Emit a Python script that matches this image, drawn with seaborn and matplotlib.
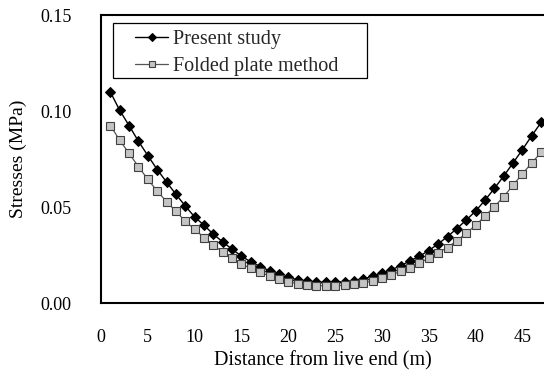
import numpy as np
import pandas as pd
import matplotlib
matplotlib.use("Agg")
import matplotlib.pyplot as plt
from matplotlib.patches import Rectangle
import seaborn as sns

distance = list(range(1, 48))
present_study = [0.1099, 0.1003, 0.0924, 0.0842, 0.0768, 0.0695, 0.0630, 0.0566, 0.0505, 0.0448,
                 0.0405, 0.0358, 0.0318, 0.0280, 0.0244, 0.0214, 0.0190, 0.0168, 0.0149, 0.0133,
                 0.0121, 0.0114, 0.0109, 0.0107, 0.0109, 0.0111, 0.0116, 0.0125, 0.0139, 0.0154,
                 0.0173, 0.0194, 0.0220, 0.0244, 0.0273, 0.0308, 0.0346, 0.0388, 0.0432, 0.0479,
                 0.0535, 0.0597, 0.0661, 0.0730, 0.0799, 0.0872, 0.0941]
folded_plate = [0.0924, 0.0848, 0.0779, 0.0710, 0.0644, 0.0583, 0.0528, 0.0477, 0.0426, 0.0384,
                0.0341, 0.0301, 0.0266, 0.0232, 0.0204, 0.0180, 0.0159, 0.0142, 0.0125, 0.0111,
                0.0100, 0.0095, 0.0090, 0.0090, 0.0090, 0.0092, 0.0097, 0.0104, 0.0114, 0.0128,
                0.0145, 0.0166, 0.0183, 0.0208, 0.0234, 0.0263, 0.0289, 0.0325, 0.0363, 0.0405,
                0.0453, 0.0502, 0.0554, 0.0614, 0.0673, 0.0730, 0.0785]
x_ticks = [0, 5, 10, 15, 20, 25, 30, 35, 40, 45]
y_ticks = [0.00, 0.05, 0.10, 0.15]
y_tick_labels = ["0.00", "0.05", "0.10", "0.15"]
series_names = ["Present study", "Folded plate method"]

sns.set_theme(style="white")
plt.rcParams['font.family'] = ['Liberation Serif', 'DejaVu Serif']

fig = plt.figure(figsize=(5.44, 3.72), dpi=100)
ax = fig.add_axes([101/544, 1 - 303/372, 1 - 101/544, (303 - 15)/372])

df1 = pd.DataFrame({"x": distance, "y": present_study})
df2 = pd.DataFrame({"x": distance, "y": folded_plate})

sns.lineplot(data=df1, x="x", y="y", ax=ax, color="black", linewidth=1.0,
             marker="D", markersize=4.6, markerfacecolor="black", markeredgecolor="black",
             label=series_names[0])
sns.lineplot(data=df2, x="x", y="y", ax=ax, color="#555555", linewidth=0.9,
             marker="s", markersize=5.5, markerfacecolor="#c4c4c4", markeredgecolor="#404040",
             markeredgewidth=0.8, label=series_names[1])

ax.set_xlim(0, 47.3)
ax.set_ylim(0, 0.15)
ax.set_xticks(x_ticks)
ax.set_yticks(y_ticks)
ax.set_yticklabels(y_tick_labels)
ax.tick_params(axis="both", length=0, labelsize=13, colors="black")
ax.tick_params(axis="x", pad=18.5)
ax.tick_params(axis="y", pad=21)
ax.set_xlabel("Distance from live end (m)", fontsize=14.5, color="black", labelpad=4)
ax.set_ylabel("Stresses (MPa)", fontsize=14, color="black", labelpad=10)

for s in ["left", "top", "bottom"]:
    ax.spines[s].set_visible(True)
    ax.spines[s].set_color("black")
    ax.spines[s].set_linewidth(1.5)
ax.spines["right"].set_visible(False)

leg = ax.legend(loc="upper left", bbox_to_anchor=(0.0767, 0.948), fontsize=14.5,
                frameon=False, borderaxespad=0, handlelength=1.65, handletextpad=0.25,
                borderpad=0, labelspacing=0.4, markerscale=0.85)
frame = Rectangle((0.0271, 0.781), 0.600 - 0.0271, 0.972 - 0.781, transform=ax.transAxes,
                  fill=True, facecolor="white", edgecolor="black", linewidth=0.9, zorder=4)
ax.add_patch(frame)
leg.set_zorder(5)

fig.savefig("out.png", dpi=100)
